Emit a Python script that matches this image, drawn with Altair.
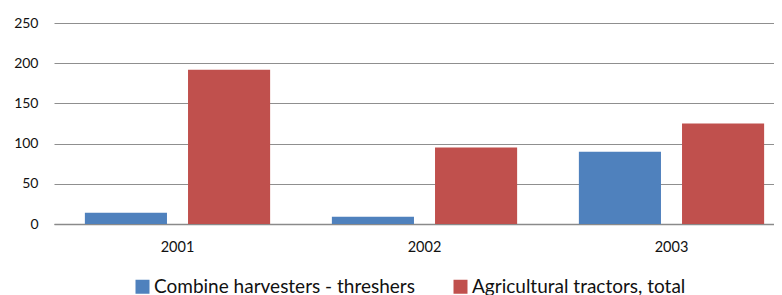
import altair as alt
import pandas as pd

years = ["2001", "2002", "2003"]
series = ["Combine harvesters - threshers", "Agricultural tractors, total"]
combine = [14, 9, 90]
tractors = [192, 95, 125]
colors = ["#4F81BD", "#C0504D"]

rows = []
for i, y in enumerate(years):
    rows.append({"year": y, "series": series[0], "value": combine[i]})
    rows.append({"year": y, "series": series[1], "value": tractors[i]})
df = pd.DataFrame(rows)

FONT = "Lato"

chart = alt.Chart(df).mark_bar().encode(
    x=alt.X("year:N", sort=years, title=None,
            scale=alt.Scale(range=[0, 741], paddingInner=0.25, paddingOuter=0.125),
            axis=alt.Axis(labelAngle=0, ticks=False, tickSize=0, labelPadding=16,
                          labelFontSize=14.5, labelColor="#111111", labelFont=FONT,
                          domainColor="#8a8a8a", domainWidth=1.5, grid=False)),
    xOffset=alt.XOffset("series:N", sort=series,
                        scale=alt.Scale(paddingInner=0.204, paddingOuter=0)),
    y=alt.Y("value:Q", title=None,
            scale=alt.Scale(domain=[0, 250]),
            axis=alt.Axis(values=[0, 50, 100, 150, 200, 250], ticks=False, tickSize=0,
                          domain=False, labelPadding=16, labelFontSize=14,
                          labelColor="#111111", labelFont=FONT,
                          gridColor="#8f8f8f", gridWidth=1.2)),
    color=alt.Color("series:N", sort=series,
                    scale=alt.Scale(domain=series, range=colors),
                    legend=alt.Legend(title=None, orient="none", legendX=79, legendY=254,
                                      direction="horizontal", symbolType="square",
                                      symbolSize=196, symbolStrokeWidth=0,
                                      labelFontSize=19, labelFont=FONT, labelColor="#111111",
                                      labelOffset=2, columnPadding=36, labelLimit=400)),
).properties(
    width=720, height=201,
    autosize=alt.AutoSizeParams(type="none"),
    padding={"left": 46, "top": 15, "right": 0, "bottom": 71},
).configure_view(stroke=None)

chart.save("out.html", embed_options={"renderer": "svg", "actions": False})
